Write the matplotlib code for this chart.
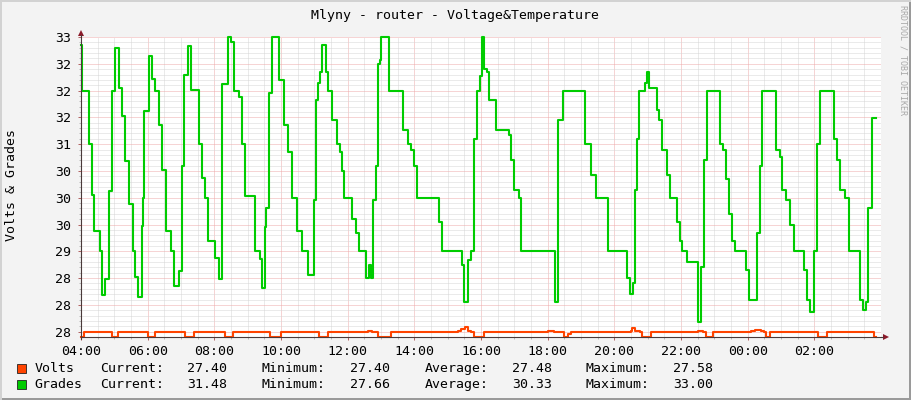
import numpy as np
import matplotlib
matplotlib.use('Agg')
import matplotlib.pyplot as plt
from matplotlib.patches import Rectangle, Polygon
from matplotlib.lines import Line2D

# time in hours after 04:00 (step changes)
grades_t = [0.00, 0.03, 0.25, 0.34, 0.40, 0.57, 0.62, 0.73, 0.85, 0.93,
            1.01, 1.14, 1.24, 1.32, 1.44, 1.55, 1.61, 1.72, 1.83, 1.85, 1.89,
            2.03, 2.12, 2.23, 2.33, 2.43, 2.54, 2.69, 2.78, 2.93,
            3.02, 3.09, 3.21, 3.31, 3.53, 3.63, 3.73, 3.81, 4.01, 4.13,
            4.24, 4.42, 4.51, 4.59, 4.73, 4.83, 4.93, 5.21, 5.36, 5.43, 5.53, 5.56,
            5.63, 5.72, 5.94, 6.08, 6.20, 6.32, 6.49, 6.62, 6.80,
            6.98, 7.04, 7.10, 7.16, 7.22, 7.34, 7.40, 7.54, 7.69, 7.78, 7.84, 7.90,
            8.14, 8.26, 8.35, 8.56, 8.65, 8.71,
            8.77, 8.86, 8.92, 8.98, 9.01, 9.25, 9.67, 9.82, 9.91, 10.00, 10.09,
            10.75, 10.84, 11.44, 11.50,
            11.62, 11.71, 11.80, 11.89, 11.98, 12.04, 12.10, 12.19, 12.25, 12.46,
            12.84, 12.90, 12.99, 13.14, 13.20, 14.22,
            14.30, 14.45, 15.12, 15.30, 15.45, 15.81, 16.38, 16.47, 16.56,
            16.62, 16.68, 16.74, 16.92, 16.98, 17.04, 17.28, 17.34, 17.43, 17.58,
            17.67, 17.88, 17.97, 18.04, 18.17, 18.50, 18.59,
            18.68, 18.77, 19.16, 19.25, 19.34, 19.43, 19.52, 19.61, 19.94, 20.03,
            20.27, 20.36, 20.42, 20.84, 20.96, 21.02, 21.14, 21.26, 21.38, 21.68,
            21.77, 21.86,
            22.00, 22.07, 22.16, 22.60, 22.69, 22.78, 22.93, 23.05, 23.38, 23.47,
            23.56, 23.62, 23.74]
grades_v = [32.85, 32.00, 31.00, 30.05, 29.37, 29.00, 28.18, 28.48, 30.13, 32.00,
            32.80, 32.05, 31.53, 30.69, 29.88, 29.00, 28.52, 28.15, 29.47, 30.00, 31.62,
            32.65, 32.22, 32.00, 31.36, 30.52, 29.37, 29.00, 28.35, 28.64,
            30.60, 32.30, 32.84, 32.02, 31.00, 30.36, 30.00, 29.20, 28.87, 28.48,
            32.12, 33.00, 32.90, 32.00, 31.88, 31.00, 30.04, 29.00, 28.86, 28.31, 29.46, 29.80,
            31.96, 33.00, 32.20, 31.36, 30.86, 30.00, 29.37, 29.00, 28.55,
            29.96, 31.82, 32.14, 32.35, 32.85, 32.35, 32.00, 31.45, 31.00, 30.85, 30.50, 30.00,
            29.60, 29.35, 29.00, 28.50, 28.75, 28.50,
            29.96, 30.60, 32.50, 32.57, 33.00, 32.00, 31.26, 31.00, 30.90, 30.60, 30.00,
            29.55, 29.00, 28.75, 28.05,
            28.84, 29.00, 31.10, 32.00, 32.27, 33.00, 32.40, 32.35, 31.82, 31.26,
            31.17, 30.70, 30.14, 30.00, 29.00, 28.05,
            31.45, 32.00, 31.00, 30.42, 30.00, 29.00, 28.50, 28.20, 28.40,
            30.14, 31.10, 32.00, 32.14, 32.35, 32.05, 31.64, 31.45, 30.90, 30.42,
            30.00, 29.55, 29.20, 29.00, 28.80, 27.68, 28.70,
            30.70, 32.00, 31.00, 30.90, 30.35, 29.70, 29.20, 29.00, 28.65, 28.09,
            29.35, 30.60, 32.00, 30.90, 30.76, 30.14, 29.96, 29.50, 29.00, 28.65,
            28.09, 27.87,
            29.00, 31.00, 32.00, 31.10, 30.70, 30.14, 30.00, 29.00, 28.09, 27.90,
            28.05, 29.80, 31.48]

volts_t = [0.00, 0.09, 0.93, 1.11, 2.01, 2.22, 3.11, 3.38, 4.31, 4.55,
           5.66, 5.99, 7.13, 7.40, 8.62, 8.74, 8.92, 9.31,
           11.32, 11.41, 11.53, 11.62, 11.71, 11.80, 12.10,
           14.01, 14.19, 14.49, 14.61, 14.70,
           16.50, 16.54, 16.62, 16.77, 16.83, 17.10,
           18.50, 18.65, 18.74, 18.95,
           20.09, 20.21, 20.39, 20.48, 20.54, 20.66,
           22.10, 22.37, 23.80]
volts_v = [27.40, 27.49, 27.40, 27.49, 27.40, 27.49, 27.40, 27.49, 27.40, 27.49,
           27.40, 27.49, 27.40, 27.49, 27.52, 27.49, 27.40, 27.49,
           27.52, 27.55, 27.58, 27.52, 27.49, 27.40, 27.49,
           27.52, 27.49, 27.40, 27.45, 27.49,
           27.51, 27.56, 27.51, 27.49, 27.40, 27.49,
           27.51, 27.49, 27.40, 27.49,
           27.51, 27.53, 27.51, 27.49, 27.40, 27.49,
           27.40, 27.49, 27.40]
end_t = 23.86

hour_ticks = [0, 2, 4, 6, 8, 10, 12, 14, 16, 18, 20, 22]
hour_labels = ['04:00', '06:00', '08:00', '10:00', '12:00', '14:00',
               '16:00', '18:00', '20:00', '22:00', '00:00', '02:00']
y_ticks = [27.5, 28.0, 28.5, 29.0, 29.5, 30.0, 30.5, 31.0, 31.5, 32.0, 32.5, 33.0]
y_labels = ['28', '28', '28', '29', '30', '30', '30', '31', '32', '32', '32', '33']

series_names = ['Volts', 'Grades']
series_colors = ['#FF4400', '#00CC00']
stat_names = ['Current:', 'Minimum:', 'Average:', 'Maximum:']
volts_stats = [27.40, 27.40, 27.48, 27.58]
grades_stats = [31.48, 27.66, 30.33, 33.00]

W, H = 911, 400
plt.rcParams['font.family'] = ['DejaVu Sans Mono']
FS = 9.5


def fx(x):
    return x / W


def fy(y):
    return 1 - y / H


fig = plt.figure(figsize=(W / 100, H / 100), dpi=100, facecolor='#F3F3F3')
ax = fig.add_axes([fx(81), fy(337), 800 / W, 300 / H])
ax.set_facecolor('white')
ax.set_xlim(0, 24)
ax.set_ylim(27.4, 33.0)

# grid
ax.set_xticks(hour_ticks)
ax.set_xticklabels(hour_labels, fontsize=FS)
ax.set_xticks(np.arange(0.5, 24, 0.5), minor=True)
ax.set_yticks(y_ticks)
ax.set_yticklabels(y_labels, fontsize=FS)
ax.set_yticks(np.arange(27.5, 33.01, 0.1), minor=True)
ax.grid(which='minor', color='#D6D6D6', linestyle=(0, (1, 1)), linewidth=0.72)
ax.grid(which='major', color='#EEAAAA', linestyle=(0, (1, 1)), linewidth=0.72)
ax.set_axisbelow(True)
ax.tick_params(which='major', length=2, width=0.7, color='#B06060', pad=3.5)
ax.tick_params(which='minor', length=1.5, width=0.7, color='#B8B8B8')
ax.tick_params(axis='y', which='major', pad=5)
for s in ax.spines.values():
    s.set_visible(False)

ax.step(volts_t + [end_t], volts_v + [volts_v[-1]], where='post',
        color=series_colors[0], linewidth=1.5, clip_on=False, zorder=3)
ax.step(grades_t + [end_t], grades_v + [grades_v[-1]], where='post',
        color=series_colors[1], linewidth=1.5, clip_on=False, zorder=4)

# axes with arrows
axis_col = '#4A3A3A'
arrow_col = '#8B1A2A'
fig.add_artist(Line2D([fx(81), fx(883)], [fy(337), fy(337)], color=axis_col, linewidth=0.8))
fig.add_artist(Line2D([fx(81), fx(81)], [fy(339), fy(35)], color=axis_col, linewidth=0.8))
fig.add_artist(Polygon([(fx(883), fy(334)), (fx(889), fy(337)), (fx(883), fy(340))],
                       closed=True, color=arrow_col, linewidth=0))
fig.add_artist(Polygon([(fx(78), fy(36)), (fx(81), fy(30)), (fx(84), fy(36))],
                       closed=True, color=arrow_col, linewidth=0))

# texts
fig.text(fx(455), fy(15), 'Mlyny - router - Voltage&Temperature',
         ha='center', va='center', fontsize=FS)
fig.text(fx(12), fy(185), 'Volts & Grades', rotation=90,
         ha='center', va='center', fontsize=FS)
fig.text(fx(903), fy(60), 'RRDTOOL / TOBI OETIKER', rotation=270,
         ha='center', va='center', fontsize=6, color='#A8A8A8')

# legend
stats = [volts_stats, grades_stats]
row_y = [368.5, 384.5]
label_x = [100, 262, 425, 586]
value_x = [187.5, 350, 512, 673.5]
for i in range(2):
    fig.add_artist(Rectangle((fx(17), fy(row_y[i] + 4.5)), 9 / W, 9 / H,
                             facecolor=series_colors[i], edgecolor='#222222',
                             linewidth=0.6))
    fig.text(fx(34.5), fy(row_y[i]), series_names[i], ha='left', va='center', fontsize=FS)
    for j in range(4):
        fig.text(fx(label_x[j]), fy(row_y[i]), stat_names[j],
                 ha='left', va='center', fontsize=FS)
        fig.text(fx(value_x[j]), fy(row_y[i]), '%.2f' % stats[i][j],
                 ha='left', va='center', fontsize=FS)

# image frame
fig.add_artist(Rectangle((0, 0), 1, 2 / H, color='#9A9A9A', linewidth=0))
fig.add_artist(Rectangle((1 - 2 / W, 0), 2 / W, 1, color='#9A9A9A', linewidth=0))
fig.add_artist(Rectangle((0, 1 - 2 / H), 1, 2 / H, color='#D2D2D2', linewidth=0))
fig.add_artist(Rectangle((0, 0), 2 / W, 1, color='#D2D2D2', linewidth=0))

fig.savefig('out.png', dpi=100, facecolor=fig.get_facecolor())
